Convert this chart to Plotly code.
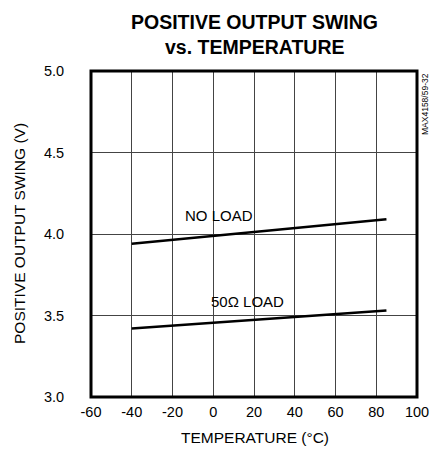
import plotly.graph_objects as go

temp = [-40, 85]
no_load = [3.94, 4.09]
load_50 = [3.42, 3.53]
x_ticks = [-60, -40, -20, 0, 20, 40, 60, 80, 100]
y_ticks = [3.0, 3.5, 4.0, 4.5, 5.0]

FONT = "Liberation Sans, Arial, sans-serif"

fig = go.Figure()
fig.add_trace(go.Scatter(x=temp, y=no_load, mode="lines",
                         line=dict(color="black", width=2.5), showlegend=False))
fig.add_trace(go.Scatter(x=temp, y=load_50, mode="lines",
                         line=dict(color="black", width=2.5), showlegend=False))

fig.add_annotation(x=3, y=4.115, text="NO LOAD", showarrow=False,
                   font=dict(family=FONT, size=15, color="black"))
fig.add_annotation(x=17, y=3.585, text="50Ω LOAD", showarrow=False,
                   font=dict(family=FONT, size=15, color="black"))

fig.add_shape(type="rect", xref="paper", yref="paper", x0=0, y0=0, x1=1, y1=1,
              line=dict(color="black", width=3))

fig.add_annotation(xref="paper", yref="paper", x=1.0245, y=1.0, xanchor="center",
                   yanchor="top", text="MAX4158/59-32", textangle=-90, showarrow=False,
                   font=dict(family=FONT, size=8.5, color="black"))

# title lines
fig.add_annotation(xref="paper", yref="paper", x=0.503, y=1.150, xanchor="center",
                   yanchor="middle", text="<b>POSITIVE OUTPUT SWING</b>", showarrow=False,
                   font=dict(family=FONT, size=19.5, color="black"))
fig.add_annotation(xref="paper", yref="paper", x=0.503, y=1.073, xanchor="center",
                   yanchor="middle", text="<b>vs. TEMPERATURE</b>", showarrow=False,
                   font=dict(family=FONT, size=19.5, color="black"))

# axis titles
fig.add_annotation(xref="paper", yref="paper", x=0.503, y=-0.1227, xanchor="center",
                   yanchor="middle", text="TEMPERATURE (°C)", showarrow=False,
                   font=dict(family=FONT, size=15.5, color="black"))
fig.add_annotation(xref="paper", yref="paper", x=-0.221, y=0.503, xanchor="center",
                   yanchor="middle", text="POSITIVE OUTPUT SWING (V)", textangle=-90,
                   showarrow=False, font=dict(family=FONT, size=15.5, color="black"))

fig.update_layout(
    width=430, height=456,
    margin=dict(l=91, r=13, t=71, b=59),
    paper_bgcolor="white", plot_bgcolor="white",
    xaxis=dict(range=[-60, 100], tickvals=x_ticks, ticktext=[str(v) for v in x_ticks],
               showgrid=True, gridcolor="#444", gridwidth=1, zeroline=False,
               automargin=False,
               ticks="outside", ticklen=2, tickcolor="rgba(0,0,0,0)",
               tickfont=dict(family=FONT, size=14.5, color="black")),
    yaxis=dict(range=[3.0, 5.0], tickvals=y_ticks, ticktext=[f"{v:.1f}" for v in y_ticks],
               showgrid=True, gridcolor="#444", gridwidth=1, zeroline=False,
               automargin=False,
               ticks="outside", ticklen=23, tickcolor="rgba(0,0,0,0)",
               tickfont=dict(family=FONT, size=14.5, color="black")),
)

fig.write_html("out.html", config={"displayModeBar": False},
               post_script="document.body.style.margin='0';document.body.style.overflow='hidden';")
